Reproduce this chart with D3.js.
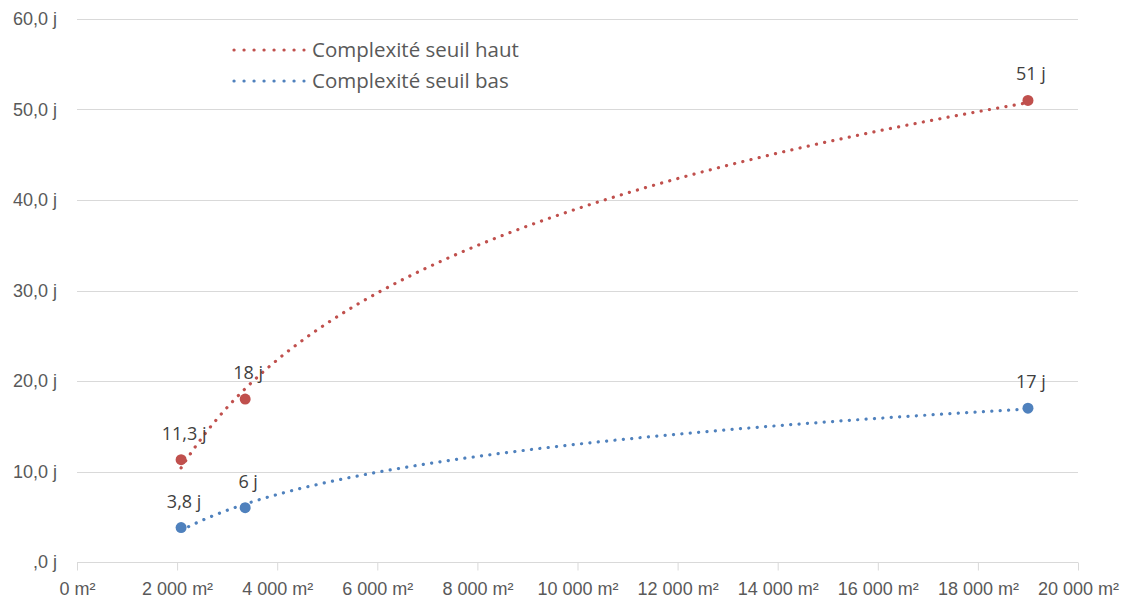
<!DOCTYPE html>
<html><head><meta charset="utf-8">
<script src="https://cdn.jsdelivr.net/npm/d3@7"></script>
<style>
html,body{margin:0;padding:0;background:#fff;}
svg{display:block;font-family:"Open Sans",Lato,sans-serif;}
</style></head>
<body><svg id="c" width="1129" height="598"></svg>
<script>
// Data
const surfaces = [2080, 3360, 19000];
const seuilHaut = [11.3, 18, 51];
const seuilBas = [3.8, 6, 17];
const labelsHaut = ["11,3 j", "18 j", "51 j"];
const labelsBas = ["3,8 j", "6 j", "17 j"];
const seriesNames = ["Complexité seuil haut", "Complexité seuil bas"];
const seriesColors = ["#C0504D", "#4F81BD"];
const xTicks = [0, 2000, 4000, 6000, 8000, 10000, 12000, 14000, 16000, 18000, 20000];
const xTickLabels = ["0 m²", "2 000 m²", "4 000 m²", "6 000 m²", "8 000 m²", "10 000 m²", "12 000 m²", "14 000 m²", "16 000 m²", "18 000 m²", "20 000 m²"];
const yTicks = [0, 10, 20, 30, 40, 50, 60];
const yTickLabels = [",0 j", "10,0 j", "20,0 j", "30,0 j", "40,0 j", "50,0 j", "60,0 j"];

const svg = d3.select("#c");
const x = d3.scaleLinear().domain([0, 20000]).range([77, 1078]);
const y = d3.scaleLinear().domain([0, 60]).range([562, 19]);

// gridlines
svg.append("g").selectAll("line").data(yTicks.slice(1)).join("line")
  .attr("x1", x(0)).attr("x2", x(20000))
  .attr("y1", d => Math.round(y(d)) + 0.5).attr("y2", d => Math.round(y(d)) + 0.5)
  .attr("stroke", "#d9d9d9").attr("stroke-width", 1);

// x axis
const xAxis = d3.axisBottom(x).tickValues(xTicks).tickSize(8).tickPadding(8)
  .tickFormat((d, i) => xTickLabels[i]);
const gx = svg.append("g").attr("transform", `translate(0,${Math.round(y(0)) + 0.5})`).call(xAxis);
gx.select(".domain").attr("stroke", "#d9d9d9").attr("d", `M${x(0)},0H${x(20000)}`);
gx.selectAll(".tick line").attr("stroke", "#d9d9d9").attr("y1", 0).attr("y2", 8);
gx.selectAll(".tick text").attr("fill", "#595959").attr("font-size", 18).attr("y", 26).attr("dy", "0.35em");

// y axis labels
const yAxis = d3.axisLeft(y).tickValues(yTicks).tickSize(0).tickPadding(20)
  .tickFormat((d, i) => yTickLabels[i]);
const gy = svg.append("g").attr("transform", `translate(${x(0)},0)`).call(yAxis);
gy.select(".domain").remove();
gy.selectAll(".tick text").attr("fill", "#595959").attr("font-size", 18);

// log trendlines (least squares on ln x, as the original trendline)
function logFit(xs, ys) {
  const lx = xs.map(Math.log);
  const mx = d3.mean(lx), my = d3.mean(ys);
  let sxy = 0, sxx = 0;
  lx.forEach((v, i) => { sxy += (v - mx) * (ys[i] - my); sxx += (v - mx) * (v - mx); });
  const a = sxy / sxx, b = my - a * mx;
  return v => a * Math.log(v) + b;
}
const series = [seuilHaut, seuilBas];
const labels = [labelsHaut, labelsBas];
const line = d3.line().x(d => x(d[0])).y(d => y(d[1])).curve(d3.curveLinear);
series.forEach((vals, si) => {
  const f = logFit(surfaces, vals);
  const xs = d3.range(surfaces[0], surfaces[surfaces.length - 1], 50).concat([surfaces[surfaces.length - 1]]);
  svg.append("path").datum(xs.map(v => [v, f(v)]))
    .attr("d", line).attr("fill", "none")
    .attr("stroke", seriesColors[si]).attr("stroke-width", 3.2)
    .attr("stroke-linecap", "round").attr("stroke-dasharray", "0.1 8.3");
  svg.append("g").selectAll("circle").data(vals).join("circle")
    .attr("cx", (d, i) => x(surfaces[i])).attr("cy", d => y(d)).attr("r", 5.5)
    .attr("fill", seriesColors[si]);
  svg.append("g").selectAll("text").data(vals).join("text")
    .attr("x", (d, i) => x(surfaces[i]) + 3).attr("y", d => y(d) - 20)
    .attr("text-anchor", "middle").attr("fill", "#404040").attr("font-size", 18)
    .text((d, i) => labels[si][i]);
});

// legend
const leg = svg.append("g");
seriesNames.forEach((n, i) => {
  const yy = 50 + i * 31;
  leg.append("line").attr("x1", 234).attr("x2", 304).attr("y1", yy).attr("y2", yy)
    .attr("stroke", seriesColors[i]).attr("stroke-width", 3.2)
    .attr("stroke-linecap", "round").attr("stroke-dasharray", "0.1 9.9");
  leg.append("text").attr("x", 312).attr("y", yy).attr("dy", "0.35em")
    .attr("fill", "#595959").attr("font-size", 20.5).text(n);
});
</script></body></html>
